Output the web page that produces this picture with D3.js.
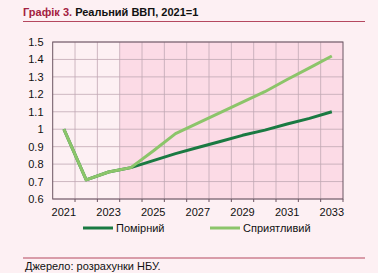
<!DOCTYPE html>
<html><head><meta charset="utf-8">
<script src="https://cdn.jsdelivr.net/npm/d3@7"></script>
<style>
html,body{margin:0;padding:0;background:#fdf0f3;}
svg{display:block;font-family:Arial,"Liberation Sans",sans-serif;}
</style></head>
<body>
<svg id="c" width="378" height="273"></svg>
<script>
const years = [2021,2022,2023,2024,2025,2026,2027,2028,2029,2030,2031,2032,2033];
const moderate = [1.0,0.71,0.755,0.78,0.82,0.86,0.895,0.93,0.965,0.995,1.03,1.062,1.10];
const favorable = [1.0,0.71,0.755,0.78,0.875,0.975,1.035,1.095,1.155,1.215,1.285,1.352,1.42];
const yTicks = [0.6,0.7,0.8,0.9,1,1.1,1.2,1.3,1.4,1.5];
const xLabelYears = [2021,2023,2025,2027,2029,2031,2033];
const forecastStart = 2024;
const seriesNames = ["Помірний","Сприятливий"];
const colors = ["#1a7a42","#8cc56a"];

const svg = d3.select("#c");
const m = {l:52.7, r:343, t:42, b:199};
const x = d3.scaleBand().domain(years).range([m.l,m.r]).padding(0);
const y = d3.scaleLinear().domain([0.6,1.5]).range([m.b,m.t]);

svg.append("rect").attr("width",378).attr("height",273).attr("fill","#fdf0f3");

// title
const t = svg.append("text").attr("x",23).attr("y",16).attr("font-size",11).attr("font-weight","bold");
t.append("tspan").attr("fill","#a3213f").text("Графік 3. ");
t.append("tspan").attr("fill","#111").text("Реальний ВВП, 2021=1");
svg.append("line").attr("x1",23).attr("x2",365).attr("y1",21.5).attr("y2",21.5).attr("stroke","#b5485f").attr("stroke-width",1);

// plot bg
svg.append("rect").attr("x",m.l).attr("y",m.t).attr("width",m.r-m.l).attr("height",m.b-m.t).attr("fill","#fdf0f3");
svg.append("rect").attr("x",x(forecastStart)).attr("y",m.t).attr("width",m.r-x(forecastStart)).attr("height",m.b-m.t).attr("fill","#fcdbe6");

// grid
const g = svg.append("g");
g.selectAll(".hg").data(yTicks).enter().append("line")
 .attr("x1",m.l).attr("x2",m.r).attr("y1",d=>y(d)).attr("y2",d=>y(d))
 .attr("stroke","#c0a8b4").attr("stroke-width",0.8);
g.selectAll(".vg").data(years.slice(1)).enter().append("line")
 .attr("x1",d=>x(d)).attr("x2",d=>x(d)).attr("y1",m.t).attr("y2",m.b)
 .attr("stroke","#c0a8b4").attr("stroke-width",0.8);

// frame
svg.append("rect").attr("x",m.l).attr("y",m.t).attr("width",m.r-m.l).attr("height",m.b-m.t)
 .attr("fill","none").attr("stroke","#6b5562").attr("stroke-width",1);

// y axis labels
svg.selectAll(".yl").data(yTicks).enter().append("text")
 .attr("x",43.5).attr("y",d=>y(d)+4).attr("text-anchor","end").attr("font-size",11).attr("fill","#111")
 .text(d=>d);

// x ticks
svg.selectAll(".xt").data(years.slice(1).concat([null])).enter().append("line")
 .attr("x1",(d,i)=>m.l + (i+1)*x.bandwidth()).attr("x2",(d,i)=>m.l+(i+1)*x.bandwidth())
 .attr("y1",m.b).attr("y2",m.b+3).attr("stroke","#6b5562");
svg.selectAll(".xl").data(xLabelYears).enter().append("text")
 .attr("x",d=>x(d)+x.bandwidth()/2).attr("y",216).attr("text-anchor","middle").attr("font-size",11).attr("fill","#111")
 .text(d=>d);

// lines
const line = d3.line().x((d,i)=>x(years[i])+x.bandwidth()/2).y(d=>y(d));
[moderate,favorable].forEach((s,k)=>{
  svg.append("path").datum(s).attr("d",line).attr("fill","none")
   .attr("stroke",colors[k]).attr("stroke-width",3).attr("stroke-linejoin","round");
});

// legend
const leg = [{x1:83,x2:113},{x1:210,x2:240}];
seriesNames.forEach((n,k)=>{
  svg.append("line").attr("x1",leg[k].x1).attr("x2",leg[k].x2).attr("y1",228).attr("y2",228)
   .attr("stroke",colors[k]).attr("stroke-width",3);
  svg.append("text").attr("x",leg[k].x2+3).attr("y",232).attr("font-size",11).attr("fill","#111").text(n);
});

// source
svg.append("line").attr("x1",23).attr("x2",365).attr("y1",258).attr("y2",258).attr("stroke","#b5485f").attr("stroke-width",1);
svg.append("text").attr("x",25).attr("y",270).attr("font-size",11).attr("fill","#111").text("Джерело: розрахунки НБУ.");
</script>
</body></html>
